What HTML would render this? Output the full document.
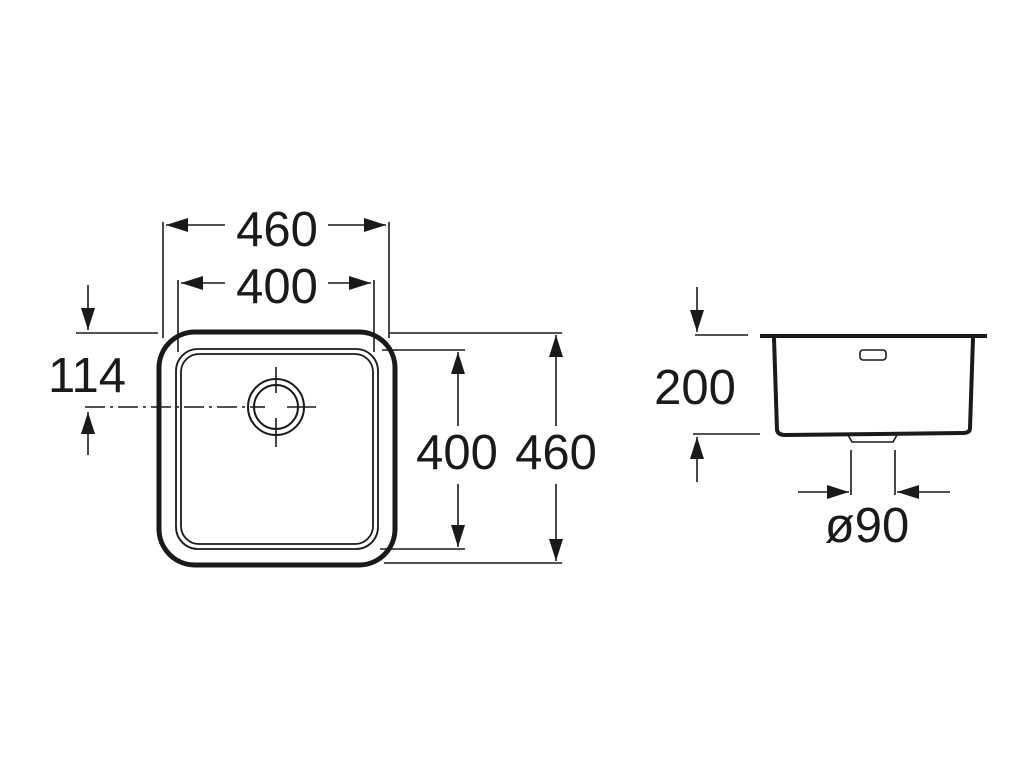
<!DOCTYPE html>
<html><head><meta charset="utf-8"><style>html,body{margin:0;padding:0;background:#fff}svg{display:block}</style></head>
<body>
<svg width="1020" height="770" viewBox="0 0 1020 770" xmlns="http://www.w3.org/2000/svg">
<g stroke="#1a1a1a" fill="none" stroke-width="1.6">
<rect x="159" y="332" width="236" height="233" rx="36" stroke-width="5"/>
<rect x="176" y="349" width="202" height="200" rx="22" stroke-width="1.8"/>
<rect x="181" y="354" width="192" height="190" rx="18" stroke-width="1.8"/>
<circle cx="276" cy="407" r="28" stroke-width="2"/>
<circle cx="276" cy="407" r="22" stroke-width="2"/>
<line x1="276" y1="367" x2="276" y2="393"/><line x1="276" y1="418" x2="276" y2="447"/>
<line x1="287" y1="407" x2="316" y2="407"/>
<line x1="85" y1="407" x2="265" y2="407" stroke-dasharray="20,5,3,5"/>
<line x1="163" y1="222" x2="163" y2="338"/><line x1="389" y1="222" x2="389" y2="338"/>
<line x1="178" y1="280" x2="178" y2="352"/><line x1="374" y1="280" x2="374" y2="352"/>
<line x1="166" y1="225" x2="225" y2="225"/><line x1="328" y1="225" x2="386" y2="225"/>
<line x1="181" y1="283" x2="225" y2="283"/><line x1="328" y1="283" x2="371" y2="283"/>
<line x1="76" y1="333" x2="158" y2="333"/>
<line x1="88" y1="285" x2="88" y2="330"/><line x1="88" y1="412" x2="88" y2="455"/>
<line x1="382" y1="350" x2="465" y2="350"/><line x1="380" y1="549" x2="465" y2="549"/>
<line x1="390" y1="333" x2="562" y2="333"/><line x1="384" y1="563" x2="562" y2="563"/>
<line x1="458" y1="352" x2="458" y2="426"/><line x1="458" y1="484" x2="458" y2="547"/>
<line x1="556" y1="335" x2="556" y2="426"/><line x1="556" y1="484" x2="556" y2="561"/>
<path d="M760 336 H987" stroke-width="4"/>
<path d="M774 338 L777 430 Q778 435 785 435 L963 433 Q970 433 970 428 L973 338" stroke-width="4"/>
<path d="M848 435 L852 442 H893 L897 435" stroke-width="1.6"/>
<rect x="860" y="350" width="26" height="10" rx="3"/>
<line x1="695" y1="335" x2="748" y2="335"/><line x1="693" y1="434" x2="760" y2="434"/>
<line x1="697" y1="287" x2="697" y2="332"/><line x1="697" y1="437" x2="697" y2="482"/>
<line x1="851" y1="450" x2="851" y2="495"/><line x1="895" y1="450" x2="895" y2="495"/>
<line x1="798" y1="492" x2="849" y2="492"/><line x1="897" y1="492" x2="950" y2="492"/>
</g>
<g fill="#1a1a1a">
<polygon points="166,225 188,218 188,232"/><polygon points="386,225 364,218 364,232"/>
<polygon points="181,283 203,276 203,290"/><polygon points="371,283 349,276 349,290"/>
<polygon points="88,330 81,308 95,308"/><polygon points="88,412 81,434 95,434"/>
<polygon points="458,352 451,374 465,374"/><polygon points="458,547 451,525 465,525"/>
<polygon points="556,335 549,357 563,357"/><polygon points="556,561 549,539 563,539"/>
<polygon points="697,332 690,310 704,310"/><polygon points="697,437 690,459 704,459"/>
<polygon points="849,492 827,485 827,499"/><polygon points="897,492 919,485 919,499"/>
</g>
<g font-family="'Liberation Sans', sans-serif" font-size="49" fill="#1a1a1a" text-anchor="middle">
<text x="277" y="246">460</text>
<text x="277" y="303">400</text>
<text x="87" y="392">114</text>
<text x="457" y="469">400</text>
<text x="556" y="469">460</text>
<text x="695" y="404">200</text>
<text x="867" y="542">ø90</text>
</g>
</svg>
</body></html>
